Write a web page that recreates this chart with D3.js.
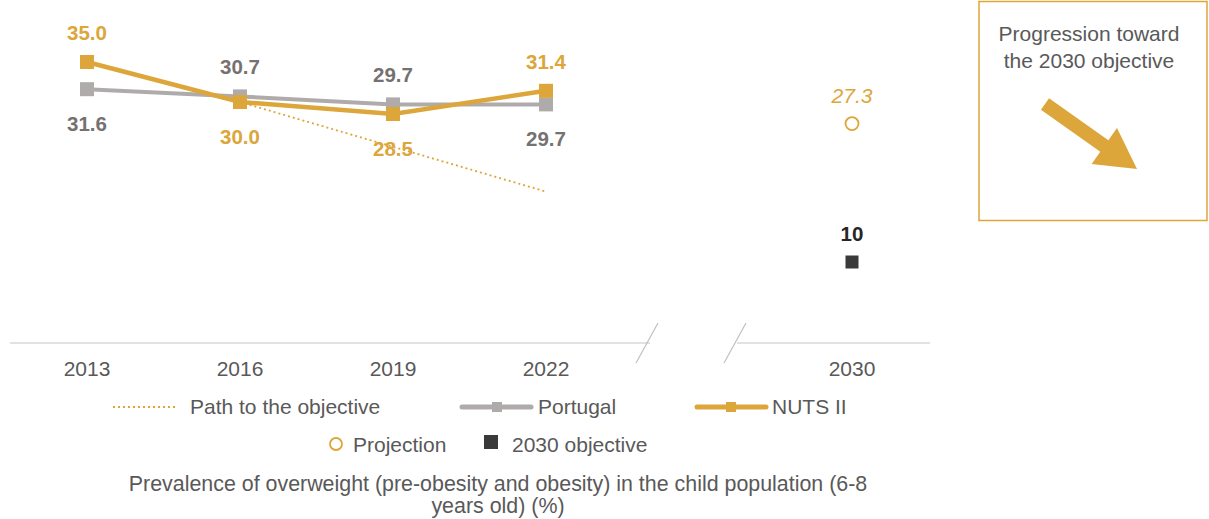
<!DOCTYPE html>
<html>
<head>
<meta charset="utf-8">
<script src="https://cdn.jsdelivr.net/npm/d3@7"></script>
<style>
  body { margin: 0; background: #fff; }
  text { font-family: "Liberation Sans", Arial, sans-serif; }
</style>
</head>
<body>
<div id="chart"></div>
<script>
// data
const years = ["2013", "2016", "2019", "2022", "gap", "2030"];
const histYears = ["2013", "2016", "2019", "2022"];
const nutsValues = [35.0, 30.0, 28.5, 31.4];
const portugalValues = [31.6, 30.7, 29.7, 29.7];
const pathValues = [null, 30.0, 24.4, 18.8];
const projectionValue = 27.3;
const objectiveValue = 10;

const gold = "#dca63a";
const grayLine = "#afabab";
const grayText = "#767171";
const textColor = "#595959";

const width = 1209, height = 519;

const svg = d3.select("#chart")
    .append("svg")
    .attr("width", width)
    .attr("height", height);

const x = d3.scalePoint()
    .domain(years)
    .range([87, 852]);

const y = d3.scaleLinear()
    .domain([0, 40])
    .range([342, 22]);

// axis line with break
const axisY = y(0) + 1;
svg.append("line")
    .attr("x1", 10).attr("x2", 650)
    .attr("y1", axisY).attr("y2", axisY)
    .style("stroke", "#d9d9d9").style("stroke-width", 1.5);
svg.append("line")
    .attr("x1", 737).attr("x2", 930)
    .attr("y1", axisY).attr("y2", axisY)
    .style("stroke", "#d9d9d9").style("stroke-width", 1.5);
[647, 735].forEach(cx => {
    svg.append("line")
        .attr("x1", cx - 11).attr("y1", axisY + 20)
        .attr("x2", cx + 11).attr("y2", axisY - 20)
        .style("stroke", "#bfbfbf").style("stroke-width", 1.2);
});

svg.append("g")
    .selectAll("text")
    .data(years.filter(d => d !== "gap"))
    .enter()
    .append("text")
    .attr("x", d => x(d))
    .attr("y", 376)
    .attr("text-anchor", "middle")
    .style("font-size", "21px")
    .style("fill", textColor)
    .text(d => d);

// path to the objective
const pathData = histYears.map((d, i) => ({ year: d, value: pathValues[i] }))
    .filter(d => d.value !== null);
svg.append("path")
    .datum(pathData)
    .attr("d", d3.line().x(d => x(d.year)).y(d => y(d.value)))
    .style("fill", "none")
    .style("stroke", gold)
    .style("stroke-width", 1.8)
    .style("stroke-dasharray", "2,3");

function drawSeries(values, color, width, labelPos, labelColor) {
    const data = histYears.map((d, i) => ({ year: d, value: values[i], pos: labelPos[i] }));
    svg.append("path")
        .datum(data)
        .attr("d", d3.line().x(d => x(d.year)).y(d => y(d.value)))
        .style("fill", "none")
        .style("stroke", color)
        .style("stroke-width", width);
    svg.append("g")
        .selectAll("rect")
        .data(data)
        .enter()
        .append("rect")
        .attr("x", d => x(d.year) - 7)
        .attr("y", d => y(d.value) - 7)
        .attr("width", 14)
        .attr("height", 14)
        .style("fill", color);
    svg.append("g")
        .selectAll("text")
        .data(data)
        .enter()
        .append("text")
        .attr("x", d => x(d.year))
        .attr("y", d => y(d.value) + (d.pos === "above" ? -22 : 42))
        .attr("text-anchor", "middle")
        .style("font-size", "20.5px")
        .style("font-weight", "bold")
        .style("fill", labelColor)
        .text(d => d.value.toFixed(1));
}

drawSeries(portugalValues, grayLine, 4, ["below", "above", "above", "below"], grayText);
drawSeries(nutsValues, gold, 4.5, ["above", "below", "below", "above"], gold);

// 2030 points
svg.append("circle")
    .attr("cx", x("2030"))
    .attr("cy", y(projectionValue))
    .attr("r", 6.5)
    .style("fill", "#fff")
    .style("stroke", gold)
    .style("stroke-width", 1.8);
svg.append("text")
    .attr("x", x("2030"))
    .attr("y", y(projectionValue) - 21)
    .attr("text-anchor", "middle")
    .style("font-size", "21px")
    .style("font-style", "italic")
    .style("fill", gold)
    .text(projectionValue.toFixed(1));

svg.append("rect")
    .attr("x", x("2030") - 6.5)
    .attr("y", y(objectiveValue) - 6.5)
    .attr("width", 13)
    .attr("height", 13)
    .style("fill", "#3a3a3a");
svg.append("text")
    .attr("x", x("2030"))
    .attr("y", y(objectiveValue) - 21)
    .attr("text-anchor", "middle")
    .style("font-size", "20.5px")
    .style("font-weight", "bold")
    .style("fill", "#262626")
    .text(objectiveValue);

// progression box
svg.append("rect")
    .attr("x", 979).attr("y", 1.5)
    .attr("width", 228).attr("height", 219)
    .style("fill", "none")
    .style("stroke", gold)
    .style("stroke-width", 1.5);
svg.append("text")
    .attr("x", 1089).attr("y", 41)
    .attr("text-anchor", "middle")
    .style("font-size", "21px")
    .style("fill", textColor)
    .text("Progression toward");
svg.append("text")
    .attr("x", 1089).attr("y", 68)
    .attr("text-anchor", "middle")
    .style("font-size", "21px")
    .style("fill", textColor)
    .text("the 2030 objective");

// arrow pointing down-right
const arrowAngle = Math.atan2(169 - 104, 1137 - 1045);
const arrowLen = Math.hypot(1137 - 1045, 169 - 104);
const shaftW = 14, headLen = 40, headW = 44;
const arrow = svg.append("g")
    .attr("transform", `translate(1045,104) rotate(${arrowAngle * 180 / Math.PI})`);
arrow.append("path")
    .attr("d", `M0,${-shaftW / 2} L${arrowLen - headLen},${-shaftW / 2} L${arrowLen - headLen},${-headW / 2}
                L${arrowLen},0 L${arrowLen - headLen},${headW / 2} L${arrowLen - headLen},${shaftW / 2}
                L0,${shaftW / 2} Z`)
    .style("fill", gold);

// legend
const legend = svg.append("g").style("font-size", "21px").style("fill", textColor);
legend.append("line")
    .attr("x1", 113).attr("x2", 178).attr("y1", 407).attr("y2", 407)
    .style("stroke", gold).style("stroke-width", 1.8).style("stroke-dasharray", "2,3");
legend.append("text").attr("x", 190).attr("y", 414).text("Path to the objective");

legend.append("line")
    .attr("x1", 462).attr("x2", 531).attr("y1", 407).attr("y2", 407)
    .style("stroke", grayLine).style("stroke-width", 5).style("stroke-linecap", "round");
legend.append("rect")
    .attr("x", 492).attr("y", 402).attr("width", 10).attr("height", 10)
    .style("fill", grayLine);
legend.append("text").attr("x", 538).attr("y", 414).text("Portugal");

legend.append("line")
    .attr("x1", 697).attr("x2", 766).attr("y1", 407).attr("y2", 407)
    .style("stroke", gold).style("stroke-width", 5).style("stroke-linecap", "round");
legend.append("rect")
    .attr("x", 726).attr("y", 402).attr("width", 10).attr("height", 10)
    .style("fill", gold);
legend.append("text").attr("x", 772).attr("y", 414).text("NUTS II");

legend.append("circle")
    .attr("cx", 336).attr("cy", 444).attr("r", 6)
    .style("fill", "#fff").style("stroke", gold).style("stroke-width", 1.8);
legend.append("text").attr("x", 353).attr("y", 452).text("Projection");
legend.append("rect")
    .attr("x", 484).attr("y", 435).attr("width", 14).attr("height", 14)
    .style("fill", "#3a3a3a");
legend.append("text").attr("x", 512).attr("y", 452).text("2030 objective");

// caption
const caption = svg.append("text")
    .attr("text-anchor", "middle")
    .style("font-size", "21.4px")
    .style("fill", textColor);
caption.append("tspan").attr("x", 498).attr("y", 491)
    .text("Prevalence of overweight (pre-obesity and obesity) in the child population (6-8");
caption.append("tspan").attr("x", 498).attr("y", 513)
    .text("years old) (%)");
</script>
</body>
</html>
